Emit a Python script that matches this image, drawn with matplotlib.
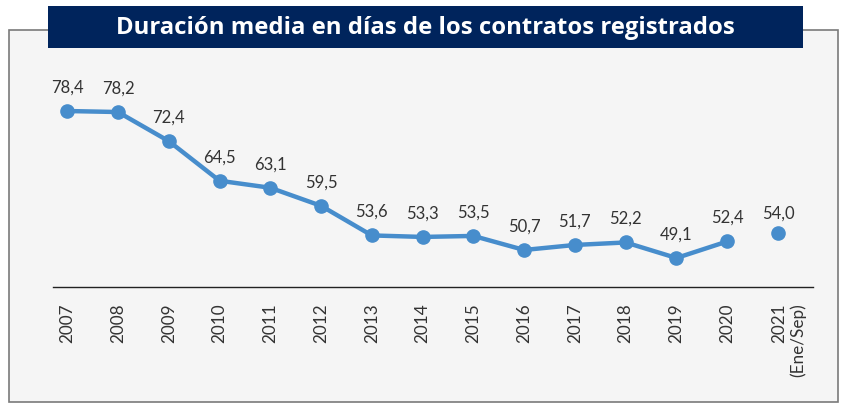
import matplotlib
matplotlib.use('Agg')
import matplotlib.pyplot as plt
from matplotlib.patches import Rectangle
import matplotlib.transforms as mtransforms

# ---- data ----
years = ['2007', '2008', '2009', '2010', '2011', '2012', '2013', '2014',
         '2015', '2016', '2017', '2018', '2019', '2020', '2021\n(Ene/Sep)']
values = [78.4, 78.2, 72.4, 64.5, 63.1, 59.5, 53.6, 53.3, 53.5, 50.7,
          51.7, 52.2, 49.1, 52.4, 54.0]
value_labels = ['78,4', '78,2', '72,4', '64,5', '63,1', '59,5', '53,6', '53,3',
                '53,5', '50,7', '51,7', '52,2', '49,1', '52,4', '54,0']
title = 'Duración media en días de los contratos registrados'

# ---- style ----
W, H = 841, 405
BLUE = '#478dcc'
NAVY = '#00245c'
TXT = '#333333'

fig = plt.figure(figsize=(W / 100, H / 100), dpi=100)
fig.patch.set_facecolor('white')


def fx(px):
    return px / W


def fy(py):
    return 1 - py / H


# frame with light background
fig.patches.append(Rectangle((fx(9), fy(402)), fx(838) - fx(9), fy(30) - fy(402),
                             transform=fig.transFigure, facecolor='#f5f5f5',
                             edgecolor='#7a7a7a', linewidth=1.2, zorder=-2))
# title box
fig.patches.append(Rectangle((fx(48), fy(48)), fx(803) - fx(48), fy(6) - fy(48),
                             transform=fig.transFigure, facecolor=NAVY,
                             edgecolor='none', zorder=-1))
fig.text(fx(425.5), fy(27.5), title, ha='center', va='center', color='white',
         fontsize=17.2, fontweight='bold', family='Open Sans', zorder=2)

ax = fig.add_axes([fx(53), fy(287), fx(813) - fx(53), fy(60) - fy(287)])
ax.patch.set_alpha(0)

x = list(range(len(years)))
ax.plot(x[:-1], values[:-1], color=BLUE, lw=3.2, marker='o', ms=9.5,
        solid_joinstyle='round', zorder=3)
ax.plot(x[-1:], values[-1:], color=BLUE, lw=0, marker='o', ms=9.5, zorder=3)

for i, (v, lbl) in enumerate(zip(values, value_labels)):
    dy = 14 if i == len(values) - 1 else 17
    ax.annotate(lbl, (i, v), xytext=(0, dy), textcoords='offset points',
                ha='center', va='center', fontsize=12, color=TXT, family='Lato')

ax.set_xlim(-0.28, 14.69)
ax.set_ylim(43.32, 88.57)
ax.set_yticks([])
for s in ['left', 'right', 'top']:
    ax.spines[s].set_visible(False)
ax.spines['bottom'].set_color('#222222')
ax.spines['bottom'].set_linewidth(1.0)

ax.set_xticks(x)
ax.set_xticklabels(years, rotation=90, fontsize=12.3, color=TXT, family='Lato',
                   multialignment='right')
ax.tick_params(axis='x', length=0, pad=12)

last = ax.get_xticklabels()[-1]
off = mtransforms.ScaledTranslation(11 / 100, 0, fig.dpi_scale_trans)
last.set_transform(last.get_transform() + off)

fig.savefig('out.png', dpi=100)
